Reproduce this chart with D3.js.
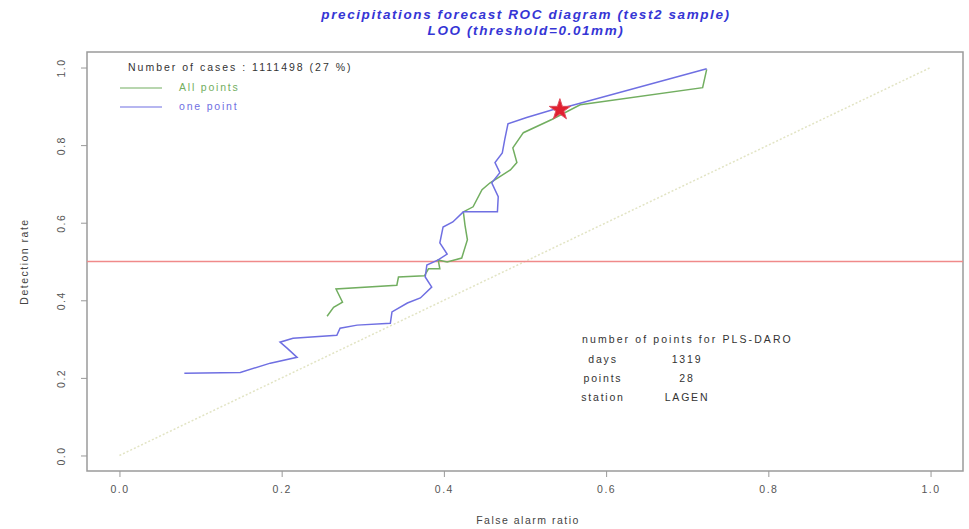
<!DOCTYPE html>
<html>
<head>
<meta charset="utf-8">
<script src="https://cdn.jsdelivr.net/npm/d3@7"></script>
<style>
  body { margin: 0; background: #fff; }
  text { font-family: 'Liberation Sans', Arial, sans-serif; }
</style>
</head>
<body>
<svg id="chart" width="969" height="529"></svg>
<script>

// ROC curve, "one point" version (false alarm ratio, detection rate)
var onePointFar = [ 0.080, 0.149, 0.186, 0.219, 0.207, 0.198, 0.214, 0.268, 0.272, 0.293, 0.334, 0.336,
  0.355, 0.371, 0.385, 0.377, 0.379, 0.393, 0.404, 0.395, 0.399, 0.411, 0.424, 0.466, 0.467, 0.459,
  0.469, 0.463, 0.472, 0.475, 0.479, 0.502, 0.534, 0.543, 0.724 ];
var onePointPod = [ 0.212, 0.214, 0.238, 0.253, 0.276, 0.292, 0.302, 0.310, 0.328, 0.336, 0.341, 0.370,
  0.393, 0.406, 0.434, 0.460, 0.491, 0.504, 0.519, 0.548, 0.589, 0.602, 0.628, 0.628, 0.667, 0.703,
  0.729, 0.755, 0.780, 0.814, 0.855, 0.871, 0.891, 0.894, 0.997 ];

// ROC curve, "All points" version
var allPointsFar = [ 0.256, 0.264, 0.275, 0.267, 0.342, 0.344, 0.376, 0.381, 0.395, 0.393, 0.404, 0.422,
  0.429, 0.426, 0.424, 0.436, 0.447, 0.457, 0.482, 0.490, 0.485, 0.498, 0.533, 0.568, 0.719, 0.724 ];
var allPointsPod = [ 0.359, 0.382, 0.395, 0.429, 0.439, 0.460, 0.463, 0.481, 0.481, 0.504, 0.499, 0.509,
  0.556, 0.594, 0.628, 0.641, 0.685, 0.703, 0.736, 0.755, 0.793, 0.832, 0.866, 0.904, 0.948, 0.995 ];

var starPoint = [ 0.543, 0.891 ];
var refLevel = 0.5;

var xTicks = [ 0.0, 0.2, 0.4, 0.6, 0.8, 1.0 ];
var yTicks = [ 0.0, 0.2, 0.4, 0.6, 0.8, 1.0 ];

var titleLines = [ 'precipitations forecast ROC diagram (test2 sample)', 'LOO (threshold=0.01mm)' ];
var legendHeader = 'Number of cases : 1111498 (27 %)';
var legendNames = [ 'All points', 'one point' ];
var infoHeader = 'number of points for PLS-DARO';
var infoLabels = [ 'days', 'points', 'station' ];
var infoValues = [ '1319', '28', 'LAGEN' ];

var svg = d3.select( '#chart' ),
  box = { left: 87, right: 963, top: 52, bottom: 471 };

var x = d3.scaleLinear().domain( [ -0.04, 1.04 ] ).range( [ box.left, box.right ] ),
  y = d3.scaleLinear().domain( [ -0.04, 1.04 ] ).range( [ box.bottom, box.top ] );

var blue = '#6f6fe2', green = '#72ae60';

// the original text is set wide and low, so small size + letter spacing
function wide( sel, size, spacing ) {
  sel.style( 'font-size', size + 'px' ).style( 'letter-spacing', spacing + 'px' );
}

/* Title */

svg.selectAll( '.title' )
  .data( titleLines )
  .enter().append( 'text' )
    .attr( 'class', 'title' )
    .attr( 'x', ( box.left + box.right ) / 2 + 1 )
    .attr( 'y', ( d, i ) => 19 + i * 16 )
    .attr( 'text-anchor', 'middle' )
    .style( 'font-weight', 'bold' )
    .style( 'font-style', 'italic' )
    .style( 'fill', '#3535d5' )
    .text( d => d )
    .call( wide, 13.5, 1.6 );

/* Box and axes */

svg.append( 'rect' )
  .attr( 'x', box.left )
  .attr( 'y', box.top )
  .attr( 'width', box.right - box.left )
  .attr( 'height', box.bottom - box.top )
  .style( 'fill', 'none' )
  .style( 'stroke', '#9a9a9a' )
  .style( 'stroke-width', 1.5 );

var xAxis = svg.append( 'g' )
  .attr( 'transform', 'translate(0,' + box.bottom + ')' )
  .call( d3.axisBottom( x ).tickValues( xTicks ).tickFormat( d3.format( '.1f' ) ).tickSize( 6 ).tickPadding( 9 ) );

var yAxis = svg.append( 'g' )
  .attr( 'transform', 'translate(' + box.left + ',0)' )
  .call( d3.axisLeft( y ).tickValues( yTicks ).tickFormat( d3.format( '.1f' ) ).tickSize( 6 ) );

yAxis.selectAll( '.tick text' )
  .attr( 'transform', 'rotate(-90)' )
  .attr( 'x', 0 )
  .attr( 'y', -22 )
  .attr( 'dy', 0 )
  .style( 'text-anchor', 'middle' );

[ xAxis, yAxis ].forEach( a => {
  a.select( '.domain' ).remove();
  a.selectAll( '.tick line' ).style( 'stroke', '#999' );
  a.selectAll( '.tick text' ).style( 'fill', '#555' ).call( wide, 10.5, 1.5 );
} );

svg.append( 'text' )
  .attr( 'x', ( box.left + box.right ) / 2 + 3 )
  .attr( 'y', 524 )
  .attr( 'text-anchor', 'middle' )
  .style( 'fill', '#444' )
  .text( 'False alarm ratio' )
  .call( wide, 10.5, 1.5 );

svg.append( 'text' )
  .attr( 'transform', 'translate(28,' + ( box.top + box.bottom ) / 2 + ') rotate(-90)' )
  .attr( 'text-anchor', 'middle' )
  .style( 'fill', '#444' )
  .text( 'Detection rate' )
  .call( wide, 10.5, 1.5 );

/* Reference lines */

svg.append( 'line' )
  .attr( 'x1', x( 0 ) ).attr( 'y1', y( 0 ) )
  .attr( 'x2', x( 1 ) ).attr( 'y2', y( 1 ) )
  .style( 'stroke', '#e2e4c4' )
  .style( 'stroke-width', 1.5 )
  .style( 'stroke-dasharray', '2,2' );

svg.append( 'line' )
  .attr( 'x1', box.left ).attr( 'x2', box.right )
  .attr( 'y1', y( refLevel ) ).attr( 'y2', y( refLevel ) )
  .style( 'stroke', '#f08a8a' )
  .style( 'stroke-width', 1.5 );

/* Curves */

var line = d3.line()
  .x( d => x( d[ 0 ] ) )
  .y( d => y( d[ 1 ] ) );

var curves = [
  { name: legendNames[ 0 ], color: green, values: allPointsFar.map( ( v, i ) => [ v, allPointsPod[ i ] ] ) },
  { name: legendNames[ 1 ], color: blue, values: onePointFar.map( ( v, i ) => [ v, onePointPod[ i ] ] ) }
];

svg.selectAll( '.curve' )
  .data( curves )
  .enter().append( 'path' )
    .attr( 'class', 'curve' )
    .attr( 'd', d => line( d.values ) )
    .style( 'fill', 'none' )
    .style( 'stroke', d => d.color )
    .style( 'stroke-width', 1.5 );

svg.append( 'path' )
  .attr( 'd', d3.symbol( d3.symbolStar, 140 )() )
  .attr( 'transform', 'translate(' + x( starPoint[ 0 ] ) + ',' + y( starPoint[ 1 ] ) + ')' )
  .style( 'fill', '#e02030' )
  .style( 'stroke', '#e05060' )
  .style( 'stroke-width', 1 );

/* Legend */

svg.append( 'text' )
  .attr( 'x', 128 )
  .attr( 'y', 71 )
  .style( 'fill', '#333' )
  .text( legendHeader )
  .call( wide, 10.5, 2 );

var legends = svg.selectAll( '.legend' )
  .data( curves )
  .enter().append( 'g' )
    .attr( 'class', 'legend' )
    .attr( 'transform', ( d, i ) => 'translate(0,' + ( 88 + i * 19 ) + ')' );

legends.append( 'line' )
  .attr( 'x1', 120 ).attr( 'x2', 162 )
  .style( 'stroke', d => d.color )
  .style( 'stroke-width', 1.2 );

legends.append( 'text' )
  .attr( 'x', 179 )
  .attr( 'y', 3 )
  .style( 'fill', d => d.color )
  .text( d => d.name )
  .call( wide, 10.5, 1.8 );

/* Info block */

svg.append( 'text' )
  .attr( 'x', 582 )
  .attr( 'y', 343 )
  .style( 'fill', '#333' )
  .text( infoHeader )
  .call( wide, 10.5, 2.1 );

var info = svg.selectAll( '.info' )
  .data( infoLabels )
  .enter().append( 'g' )
    .attr( 'class', 'info' )
    .attr( 'transform', ( d, i ) => 'translate(0,' + ( 363 + i * 19 ) + ')' );

info.append( 'text' )
  .attr( 'x', 603 )
  .attr( 'text-anchor', 'middle' )
  .style( 'fill', '#333' )
  .text( d => d )
  .call( wide, 10.5, 1.8 );

info.append( 'text' )
  .attr( 'x', 687 )
  .attr( 'text-anchor', 'middle' )
  .style( 'fill', '#333' )
  .text( ( d, i ) => infoValues[ i ] )
  .call( wide, 10.5, 1.8 );

</script>
</body>
</html>
